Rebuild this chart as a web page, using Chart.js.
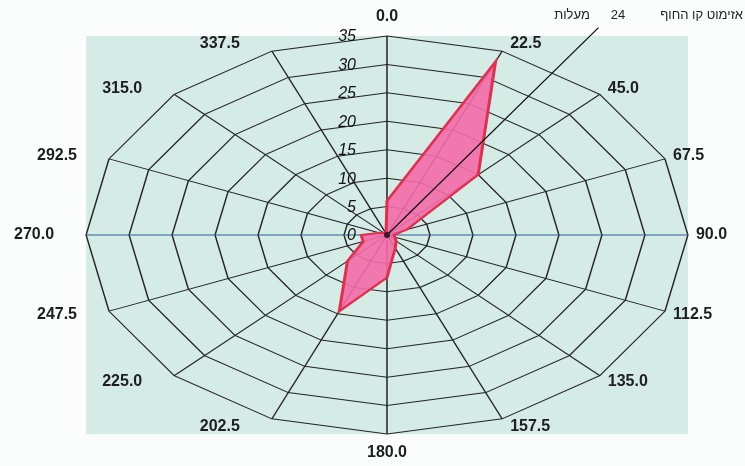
<!DOCTYPE html>
<html>
<head>
<meta charset="utf-8">
<script src="https://cdn.jsdelivr.net/npm/chart.js@4.4.0/dist/chart.umd.min.js"></script>
<style>
  html,body{margin:0;padding:0;background:#fbfcfc;}
  #wrap{width:745px;height:466px;position:relative;}
</style>
</head>
<body>
<div id="wrap"><canvas id="c"></canvas></div>
<script>
// ---- data ----
const directions = ['0.0','22.5','45.0','67.5','90.0','112.5','135.0','157.5',
                    '180.0','202.5','225.0','247.5','270.0','292.5','315.0','337.5'];
const frequencies = [6, 33, 15, 2.5, 0.8, 1, 1.5, 2.5, 7.5, 14.5, 6.5, 3, 3, 1, 0.5, 0.3];
const tickValues = [0, 5, 10, 15, 20, 25, 30, 35];
const coastLabelParts = ['אזימוט קו החוף', '24', 'מעלות'];
const coastLineBearing = 34;   // as drawn in the reference
const coastLineLength = 44;    // in scale units

// ---- style ----
const stretchX = 1.512;
const panelColor = '#d5ebe6';
const labelFont = 'bold 16px "Liberation Sans", Arial, sans-serif';
const tickFont = 'italic 16px "Liberation Sans", Arial, sans-serif';
const noteFont = '13px "Liberation Sans", Arial, "DejaVu Sans", sans-serif';

const stretchPlugin = {
  id: 'stretch',
  beforeDraw(chart) {
    const s = chart.scales.r, ctx = chart.ctx;
    const rx = s.drawingArea * stretchX, ry = s.drawingArea;
    ctx.save();
    ctx.fillStyle = panelColor;
    ctx.fillRect(s.xCenter - rx, s.yCenter - ry, rx * 2, ry * 2);
    ctx.restore();
    ctx.save();
    ctx.translate(s.xCenter, 0);
    ctx.scale(stretchX, 1);
    ctx.translate(-s.xCenter, 0);
  },
  afterDraw(chart) {
    const s = chart.scales.r, ctx = chart.ctx;
    ctx.restore();
    // point labels
    ctx.save();
    ctx.font = labelFont;
    ctx.fillStyle = '#1e1e1e';
    ctx.textBaseline = 'middle';
    const outer = s.getDistanceFromCenterForValue(35);
    directions.forEach((lab, i) => {
      const a = s.getIndexAngle(i);           // 0 at top, clockwise
      const sn = Math.sin(a), cs = Math.cos(a);
      const vx = s.xCenter + sn * outer * stretchX;
      const vy = s.yCenter - cs * outer;
      let x = vx, y = vy;
      if (Math.abs(sn) < 0.01) {
        ctx.textAlign = 'center';
        y = vy - cs * 19;
      } else if (sn > 0) {
        ctx.textAlign = 'left';
        x = vx + 8; y = vy - cs * 8;
      } else {
        ctx.textAlign = 'right';
        x = vx - 32; y = vy - cs * 8;
      }
      ctx.fillText(lab, x, y);
    });
    // tick labels
    ctx.font = tickFont;
    ctx.fillStyle = '#111';
    ctx.textAlign = 'right';
    tickValues.forEach(v => {
      const y = s.yCenter - s.getDistanceFromCenterForValue(v);
      ctx.fillText(String(v), s.xCenter - 31, y + 1);
    });
    // coast azimuth line
    const ang = (coastLineBearing - 90) * Math.PI / 180;
    const d = s.getDistanceFromCenterForValue(coastLineLength);
    ctx.strokeStyle = '#111';
    ctx.lineWidth = 1.3;
    ctx.beginPath();
    ctx.moveTo(s.xCenter, s.yCenter);
    ctx.lineTo(s.xCenter + Math.cos(ang) * d * stretchX, s.yCenter + Math.sin(ang) * d);
    ctx.stroke();
    // center hub
    ctx.fillStyle = '#3a1a28';
    ctx.beginPath();
    ctx.arc(s.xCenter, s.yCenter, 3, 0, Math.PI * 2);
    ctx.fill();
    // note text
    ctx.font = noteFont;
    ctx.fillStyle = '#222';
    ctx.textBaseline = 'middle';
    ctx.textAlign = 'right';
    ctx.fillText(coastLabelParts[0], 743, 15);
    ctx.textAlign = 'center';
    ctx.fillText(coastLabelParts[1], 618, 15);
    ctx.fillText(coastLabelParts[2], 572, 15);
    ctx.restore();
  }
};

new Chart(document.getElementById('c'), {
  type: 'radar',
  data: {
    labels: directions,
    datasets: [{
      data: frequencies,
      backgroundColor: 'rgba(244,108,168,0.9)',
      borderColor: '#e0304e',
      borderWidth: 2,
      pointRadius: 0,
      fill: true,
      clip: false
    }]
  },
  options: {
    responsive: true,
    maintainAspectRatio: false,
    animation: false,
    layout: { padding: { top: 36, bottom: 32, left: 150, right: 121 } },
    plugins: { legend: { display: false }, tooltip: { enabled: false } },
    scales: {
      r: {
        z: 1,
        min: 0, max: 35,
        startAngle: 0,
        ticks: { display: false, stepSize: 5 },
        pointLabels: { display: false },
        grid: { color: '#262626', lineWidth: 1 },
        angleLines: {
          color: ctx => (ctx.index % 8 === 4) ? '#2f5f8f' : '#262626',
          lineWidth: 1
        }
      }
    }
  },
  plugins: [stretchPlugin]
});
</script>
</body>
</html>
